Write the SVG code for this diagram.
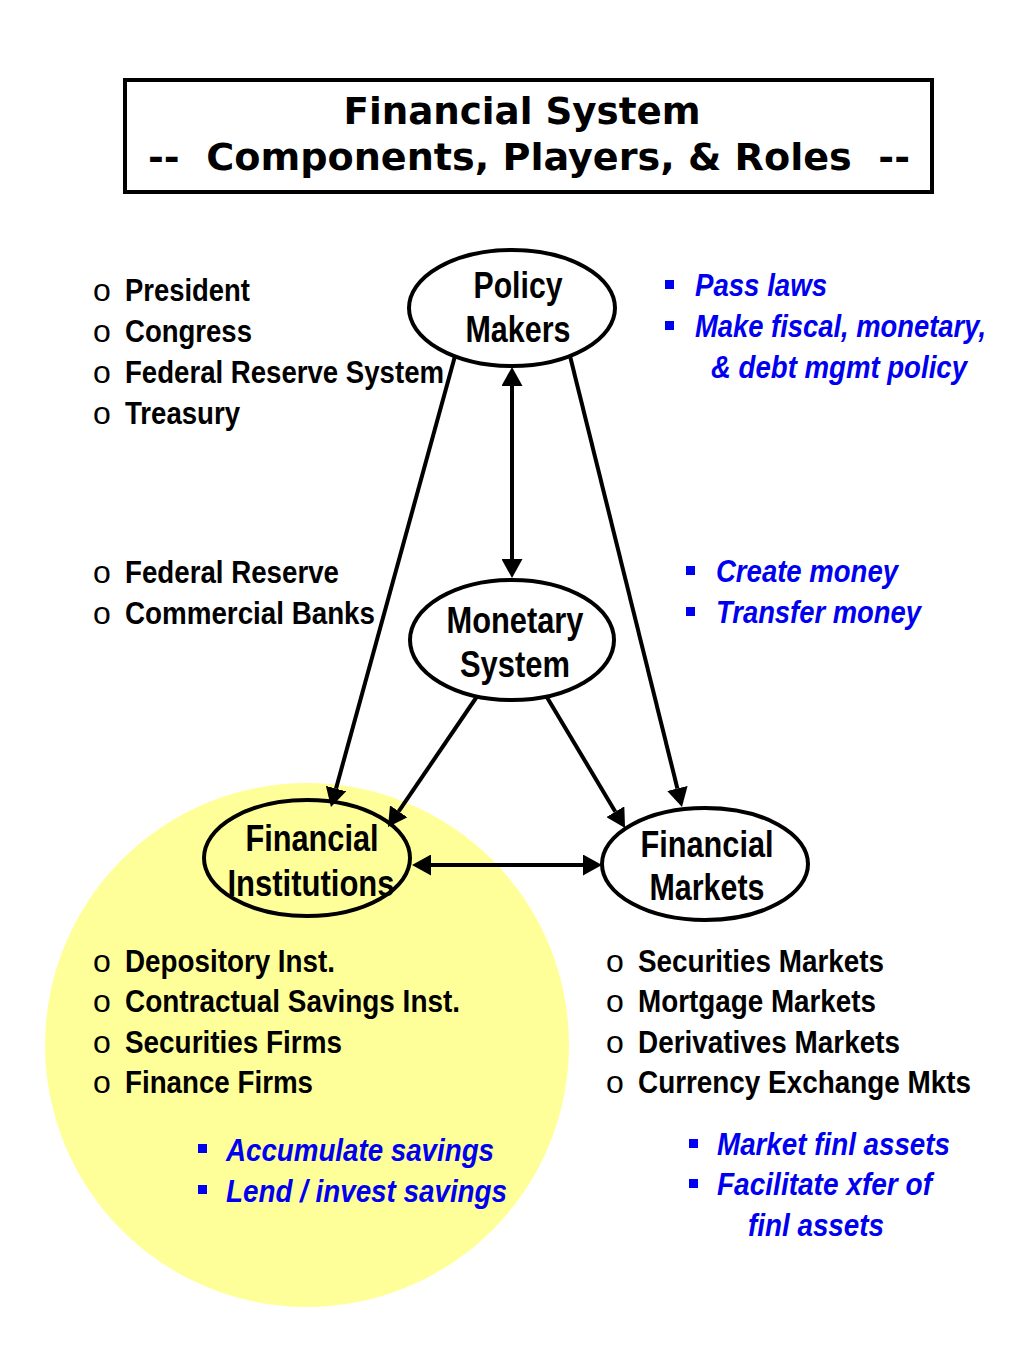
<svg xmlns="http://www.w3.org/2000/svg" width="1024" height="1365" viewBox="0 0 1024 1365">
<defs>
<style>
.t{font-family:"Liberation Sans Narrow","Arial Narrow","Liberation Sans",Arial,sans-serif;font-weight:bold;font-size:32px;fill:#000}
.o{font-family:"Liberation Sans Narrow","Arial Narrow","Liberation Sans",Arial,sans-serif;font-weight:normal;font-size:32px;fill:#000}
.b{font-family:"Liberation Sans Narrow","Arial Narrow","Liberation Sans",Arial,sans-serif;font-weight:bold;font-style:italic;font-size:32px;fill:#0000F0}
.n{font-family:"Liberation Sans Narrow","Arial Narrow","Liberation Sans",Arial,sans-serif;font-weight:bold;font-size:36px;fill:#000;text-anchor:middle}
.title{font-family:"DejaVu Sans Condensed","DejaVu Sans",Verdana,sans-serif;font-weight:bold;font-size:38px;fill:#000;text-anchor:middle}
.node{stroke:#000;stroke-width:4}
.sq{fill:#0000F0}
.conn line{stroke:#000;stroke-width:4}
</style>
<marker id="ah" viewBox="0 0 19 21" refX="0" refY="10.5" markerWidth="19" markerHeight="21" markerUnits="userSpaceOnUse" orient="auto-start-reverse">
<path d="M0,0 L19,10.5 L0,21 Z" fill="#000"/>
</marker>
</defs>
<rect width="1024" height="1365" fill="#fff"/>

<circle id="highlight" cx="307" cy="1045" r="262" fill="#FFFF99"/>

<g id="title">
<rect x="125" y="80" width="807" height="112" fill="#fff" stroke="#000" stroke-width="4"/>
<text class="title" x="522" y="124" textLength="357" lengthAdjust="spacingAndGlyphs">Financial System</text>
<text class="title" x="529" y="170" textLength="762" lengthAdjust="spacingAndGlyphs" xml:space="preserve">--  Components, Players, &amp; Roles  --</text>
</g>

<g id="connectors" class="conn">
<line x1="455" y1="356" x2="336" y2="788.6" marker-end="url(#ah)"/>
<line x1="570" y1="356" x2="677.4" y2="788.5" marker-end="url(#ah)"/>
<line x1="478" y1="695" x2="398.7" y2="811.3" marker-end="url(#ah)"/>
<line x1="545" y1="694" x2="615.3" y2="811.7" marker-end="url(#ah)"/>
<line x1="512" y1="386" x2="512" y2="559" marker-start="url(#ah)" marker-end="url(#ah)"/>
<line x1="431" y1="865" x2="583" y2="865" marker-start="url(#ah)" marker-end="url(#ah)"/>
</g>

<g id="policy-makers">
<ellipse class="node" cx="512" cy="308" rx="103" ry="58" fill="#fff"/>
<text class="n" x="518" y="298" textLength="89" lengthAdjust="spacingAndGlyphs">Policy</text>
<text class="n" x="518" y="342" textLength="105" lengthAdjust="spacingAndGlyphs">Makers</text>
</g>

<g id="monetary-system">
<ellipse class="node" cx="512" cy="640" rx="102" ry="60" fill="#fff"/>
<text class="n" x="515" y="633" textLength="137" lengthAdjust="spacingAndGlyphs">Monetary</text>
<text class="n" x="515" y="677" textLength="110" lengthAdjust="spacingAndGlyphs">System</text>
</g>

<g id="financial-institutions">
<ellipse class="node" cx="307" cy="858" rx="103" ry="58" fill="none"/>
<text class="n" x="312" y="851" textLength="133" lengthAdjust="spacingAndGlyphs">Financial</text>
<text class="n" x="311" y="896" textLength="167" lengthAdjust="spacingAndGlyphs">Institutions</text>
</g>

<g id="financial-markets">
<ellipse class="node" cx="705" cy="864" rx="103" ry="56" fill="#fff"/>
<text class="n" x="707" y="857" textLength="133" lengthAdjust="spacingAndGlyphs">Financial</text>
<text class="n" x="707" y="900" textLength="115" lengthAdjust="spacingAndGlyphs">Markets</text>
</g>

<g id="policy-players">
<text class="o" x="93" y="301">o</text>
<text class="o" x="93" y="342">o</text>
<text class="o" x="93" y="383">o</text>
<text class="o" x="93" y="424">o</text>
<text class="t" x="125" y="301" textLength="125" lengthAdjust="spacingAndGlyphs">President</text>
<text class="t" x="125" y="342" textLength="127" lengthAdjust="spacingAndGlyphs">Congress</text>
<text class="t" x="125" y="383" textLength="319" lengthAdjust="spacingAndGlyphs">Federal Reserve System</text>
<text class="t" x="125" y="424" textLength="115" lengthAdjust="spacingAndGlyphs">Treasury</text>
</g>

<g id="policy-roles">
<rect class="sq" x="665" y="280" width="9" height="9"/>
<rect class="sq" x="665" y="321" width="9" height="9"/>
<text class="b" x="695" y="296" textLength="132" lengthAdjust="spacingAndGlyphs">Pass laws</text>
<text class="b" x="695" y="337" textLength="291" lengthAdjust="spacingAndGlyphs">Make fiscal, monetary,</text>
<text class="b" x="711" y="378" textLength="256" lengthAdjust="spacingAndGlyphs">&amp; debt mgmt policy</text>
</g>

<g id="monetary-players">
<text class="o" x="93" y="583">o</text>
<text class="o" x="93" y="624">o</text>
<text class="t" x="125" y="583" textLength="214" lengthAdjust="spacingAndGlyphs">Federal Reserve</text>
<text class="t" x="125" y="624" textLength="250" lengthAdjust="spacingAndGlyphs">Commercial Banks</text>
</g>

<g id="monetary-roles">
<rect class="sq" x="686" y="566" width="9" height="9"/>
<rect class="sq" x="686" y="607" width="9" height="9"/>
<text class="b" x="716" y="582" textLength="182" lengthAdjust="spacingAndGlyphs">Create money</text>
<text class="b" x="716" y="623" textLength="205" lengthAdjust="spacingAndGlyphs">Transfer money</text>
</g>

<g id="institution-players">
<text class="o" x="93" y="972">o</text>
<text class="o" x="93" y="1012">o</text>
<text class="o" x="93" y="1053">o</text>
<text class="o" x="93" y="1093">o</text>
<text class="t" x="125" y="972" textLength="210" lengthAdjust="spacingAndGlyphs">Depository Inst.</text>
<text class="t" x="125" y="1012" textLength="335" lengthAdjust="spacingAndGlyphs">Contractual Savings Inst.</text>
<text class="t" x="125" y="1053" textLength="217" lengthAdjust="spacingAndGlyphs">Securities Firms</text>
<text class="t" x="125" y="1093" textLength="188" lengthAdjust="spacingAndGlyphs">Finance Firms</text>
</g>

<g id="institution-roles">
<rect class="sq" x="198" y="1144" width="9" height="9"/>
<rect class="sq" x="198" y="1185" width="9" height="9"/>
<text class="b" x="226" y="1161" textLength="268" lengthAdjust="spacingAndGlyphs">Accumulate savings</text>
<text class="b" x="226" y="1202" textLength="281" lengthAdjust="spacingAndGlyphs">Lend / invest savings</text>
</g>

<g id="market-players">
<text class="o" x="606" y="972">o</text>
<text class="o" x="606" y="1012">o</text>
<text class="o" x="606" y="1053">o</text>
<text class="o" x="606" y="1093">o</text>
<text class="t" x="638" y="972" textLength="246" lengthAdjust="spacingAndGlyphs">Securities Markets</text>
<text class="t" x="638" y="1012" textLength="238" lengthAdjust="spacingAndGlyphs">Mortgage Markets</text>
<text class="t" x="638" y="1053" textLength="262" lengthAdjust="spacingAndGlyphs">Derivatives Markets</text>
<text class="t" x="638" y="1093" textLength="333" lengthAdjust="spacingAndGlyphs">Currency Exchange Mkts</text>
</g>

<g id="market-roles">
<rect class="sq" x="689" y="1139" width="9" height="9"/>
<rect class="sq" x="689" y="1179" width="9" height="9"/>
<text class="b" x="717" y="1155" textLength="233" lengthAdjust="spacingAndGlyphs">Market finl assets</text>
<text class="b" x="717" y="1195" textLength="215" lengthAdjust="spacingAndGlyphs">Facilitate xfer of</text>
<text class="b" x="748" y="1236" textLength="136" lengthAdjust="spacingAndGlyphs">finl assets</text>
</g>
</svg>
